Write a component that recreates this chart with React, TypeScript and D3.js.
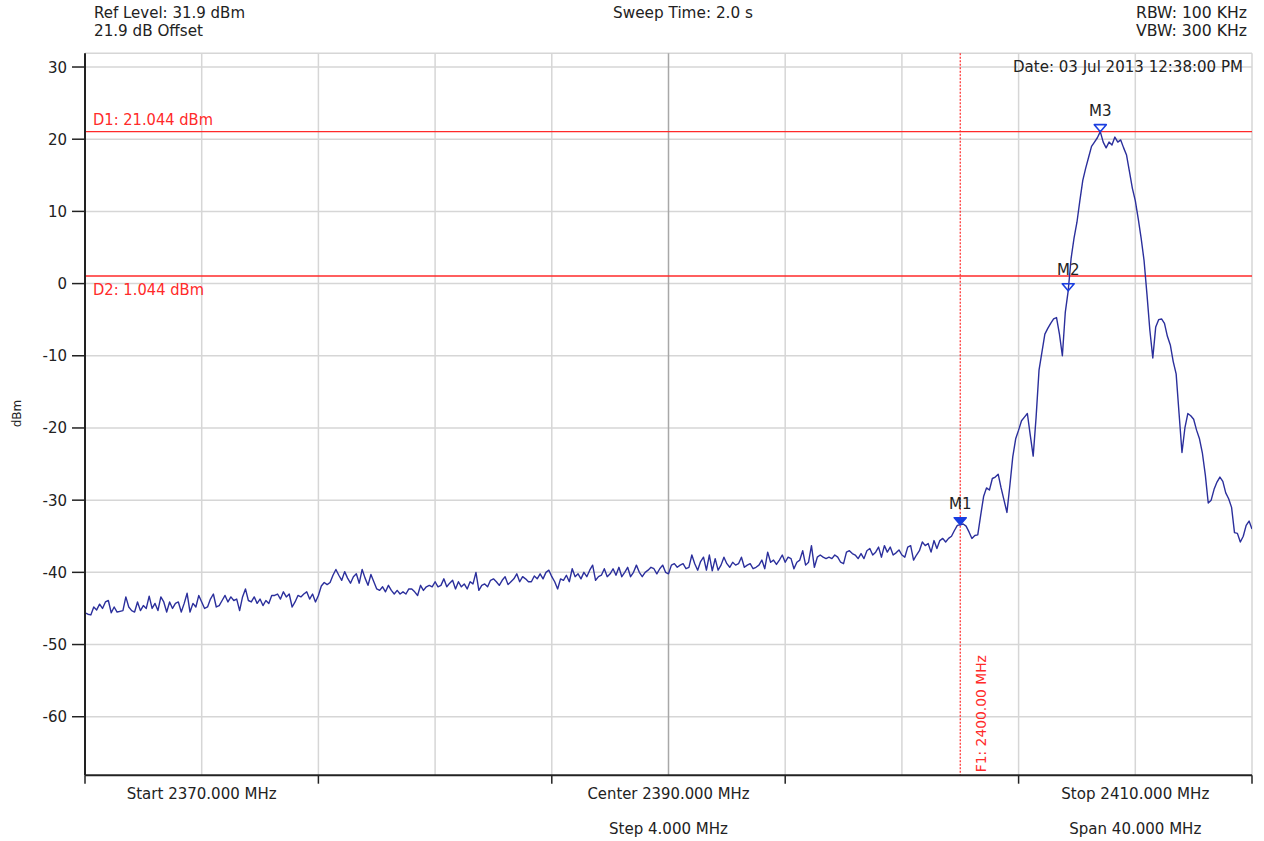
import React from 'react';
import * as d3 from 'd3';

const W = 1264;
const H = 841;
const START_MHZ = 2370;
const STOP_MHZ = 2410;
const STEP_MHZ = 0.1;
const REF_LEVEL = 31.9;
const RANGE_DB = 100;

// Trace in dBm, 401 sweep points, one band per 4 MHz division
const band1 = [
  -45.6, -45.8, -45.9, -44.8, -45.2, -44.4, -45.0, -44.1, -43.9, -45.6,
  -44.8, -45.5, -45.4, -45.3, -43.4, -44.8, -45.3, -45.5, -44.1, -45.3,
  -44.6, -45.0, -43.3, -45.0, -44.3, -45.3, -43.4, -44.1, -45.5, -44.1,
  -45.0, -44.3, -44.1, -45.5, -44.3, -42.9, -45.5, -44.3, -44.8, -43.2,
];
const band2 = [
  -44.1, -45.0, -44.8, -43.7, -43.0, -44.8, -44.6, -43.9, -43.2, -44.1,
  -43.4, -43.9, -43.7, -45.3, -43.4, -42.3, -43.9, -44.1, -43.4, -44.3,
  -43.7, -44.6, -43.9, -44.3, -43.2, -43.2, -43.0, -43.7, -42.7, -43.4,
  -43.0, -44.8, -44.1, -43.2, -43.4, -43.0, -42.7, -43.7, -43.0, -44.1,
];
const band3 = [
  -43.2, -41.9, -41.4, -41.7, -41.4, -40.4, -39.6, -40.4, -41.1, -39.9,
  -40.8, -41.5, -40.6, -40.2, -41.5, -39.6, -40.8, -41.8, -40.3, -41.3,
  -42.3, -42.5, -42.0, -42.7, -41.8, -42.5, -43.0, -42.5, -43.0, -42.7,
  -43.0, -42.3, -42.3, -42.7, -43.2, -41.8, -42.5, -42.0, -41.8, -42.0,
];
const band4 = [
  -41.3, -42.0, -41.8, -40.9, -42.0, -41.5, -41.1, -42.3, -41.3, -42.0,
  -41.6, -42.3, -41.3, -41.6, -40.0, -42.5, -41.8, -41.6, -42.0, -41.1,
  -40.9, -41.3, -41.8, -41.1, -40.6, -41.7, -41.3, -40.9, -40.2, -41.3,
  -40.6, -40.9, -41.3, -41.3, -40.5, -40.9, -40.2, -40.9, -40.0, -39.7,
];
const band5 = [
  -40.6, -41.3, -42.3, -40.9, -41.1, -40.4, -41.3, -39.5, -40.6, -40.2,
  -40.9, -40.0, -40.6, -39.7, -39.0, -41.1, -40.6, -40.4, -39.5, -40.6,
  -40.2, -39.5, -40.4, -39.3, -40.6, -40.0, -39.3, -40.6, -40.0, -39.0,
  -40.0, -40.6, -40.0, -39.7, -39.3, -39.5, -40.2, -39.5, -39.0, -40.0,
];
const band6 = [
  -40.2, -39.0, -38.8, -39.3, -39.0, -38.8, -39.5, -39.3, -37.6, -38.8,
  -39.7, -38.5, -37.9, -39.7, -37.6, -39.8, -38.1, -39.7, -39.0, -37.9,
  -38.8, -39.3, -38.6, -39.0, -38.8, -37.9, -39.3, -39.0, -38.8, -39.5,
  -39.3, -39.0, -38.3, -39.5, -37.2, -38.6, -38.3, -38.9, -38.3, -37.6,
];
const band7 = [
  -38.6, -37.9, -38.1, -39.5, -38.6, -38.3, -37.0, -39.0, -38.6, -36.3,
  -39.3, -37.9, -37.6, -37.9, -38.1, -37.9, -38.1, -37.6, -37.9, -38.6,
  -38.8, -37.2, -37.0, -37.4, -37.6, -38.1, -37.4, -38.1, -37.0, -36.7,
  -37.6, -37.2, -36.5, -37.9, -36.3, -37.2, -36.5, -37.6, -37.3, -36.9,
];
const band8 = [
  -37.6, -37.9, -36.5, -36.3, -38.3, -37.6, -37.0, -35.8, -36.3, -36.0,
  -37.2, -35.6, -36.7, -35.6, -35.3, -35.8, -35.3, -35.0, -34.2, -33.5,
  -33.4, -33.3, -33.6, -34.4, -35.3, -34.9, -34.8, -32.1, -29.5, -28.3,
  -28.6, -27.0, -26.8, -26.4, -28.3, -30.0, -31.7, -28.0, -24.0, -21.5,
];
const band9 = [
  -20.3, -19.0, -18.5, -18.0, -21.0, -23.9, -18.5, -12.0, -9.5, -7.0,
  -6.2, -5.5, -4.9, -4.7, -7.0, -10.0, -4.0, -1.0, 3.5, 6.3,
  8.5, 11.5, 14.3, 16.0, 17.5, 19.0, 19.6, 20.2, 21.044, 19.6,
  18.8, 19.6, 19.2, 20.3, 19.6, 19.9, 18.8, 17.8, 15.5, 13.2,
];
const band10 = [
  11.5, 9.0, 6.3, 3.2, -1.5, -6.5, -10.3, -6.0, -5.0, -4.9,
  -5.5, -7.3, -8.5, -10.8, -12.5, -18.0, -23.4, -20.0, -18.0, -18.3,
  -18.8, -20.3, -21.5, -23.5, -26.5, -30.4, -30.0, -28.5, -27.5, -26.8,
  -27.4, -29.0, -29.8, -31.0, -34.5, -34.6, -35.8, -35.0, -33.5, -32.9,
  -34.0,
];
const trace = [...band1, ...band2, ...band3, ...band4, ...band5, ...band6, ...band7, ...band8, ...band9, ...band10];

const yTickValues = [30, 20, 10, 0, -10, -20, -30, -40, -50, -60];
const xGridValues = [2370, 2374, 2378, 2382, 2386, 2390, 2394, 2398, 2402, 2406, 2410];
const xMajorTicks = [2370, 2378, 2386, 2394, 2402, 2410];

const markerNames = ['M1', 'M2', 'M3'];
const markerFreqs = [2400.0, 2403.7, 2404.8];
const markerFilled = [true, false, false];

const displayLines = [
  { label: 'D1: 21.044 dBm', value: 21.044, above: true },
  { label: 'D2: 1.044 dBm', value: 1.044, above: false },
];
const freqLine = { label: 'F1: 2400.00 MHz', freq: 2400.0 };

const headerLeft = ['Ref Level: 31.9 dBm', '21.9 dB Offset'];
const headerCenter = 'Sweep Time: 2.0 s';
const headerRight = ['RBW: 100 KHz', 'VBW: 300 KHz'];
const dateText = 'Date: 03 Jul 2013 12:38:00 PM';
const bottomLabels = [
  { text: 'Start 2370.000 MHz', f: 2374, row: 0, len: 150 },
  { text: 'Center 2390.000 MHz', f: 2390, row: 0, len: 162 },
  { text: 'Stop 2410.000 MHz', f: 2406, row: 0, len: 148 },
  { text: 'Step 4.000 MHz', f: 2390, row: 1, len: 119 },
  { text: 'Span 40.000 MHz', f: 2406, row: 1, len: 132 },
];

const FONT = '"DejaVu Sans", "Liberation Sans", sans-serif';
const TEXT = '#222';
const RED = '#ff2a2a';
const TRACE = '#2b2f9c';
const MARK = '#1a3ee0';

export default function App() {
  const x = d3.scaleLinear().domain([START_MHZ, STOP_MHZ]).range([85, 1252]);
  const y = d3.scaleLinear().domain([REF_LEVEL - RANGE_DB, REF_LEVEL]).range([775.2, 53.3]);
  const [x0, x1] = x.range();
  const [yb, yt] = y.range();

  const line = d3
    .line<number>()
    .x((_, i) => x(START_MHZ + i * STEP_MHZ))
    .y((d) => y(d));

  const markers = markerNames.map((name, k) => {
    const idx = Math.round((markerFreqs[k] - START_MHZ) / STEP_MHZ);
    return { name, fx: x(START_MHZ + idx * STEP_MHZ), fy: y(trace[idx]), filled: markerFilled[k] };
  });

  return (
    <svg
      width={W}
      height={H}
      style={{ position: 'fixed', left: 0, top: 0, background: '#fff' }}
      fontFamily={FONT}
    >
      <defs>
        <clipPath id="plotclip">
          <rect x={x0} y={yt} width={x1 - x0} height={yb - yt} />
        </clipPath>
      </defs>
      <rect x={0} y={0} width={W} height={H} fill="#fff" />

      {/* grid */}
      <line x1={x0} x2={x1} y1={yt} y2={yt} stroke="#d6d6d6" strokeWidth={1.5} />
      {yTickValues.map((v) => (
        <line key={'hg' + v} x1={x0} x2={x1} y1={y(v)} y2={y(v)} stroke="#d6d6d6" strokeWidth={1.5} />
      ))}
      {xGridValues.map((f) => (
        <line
          key={'vg' + f}
          x1={x(f)}
          x2={x(f)}
          y1={yt}
          y2={yb}
          stroke={f === 2390 ? '#a8a8a8' : '#d6d6d6'}
          strokeWidth={1.5}
        />
      ))}

      {/* display lines */}
      {displayLines.map((d) => (
        <g key={d.label}>
          <line x1={x0} x2={x1} y1={y(d.value)} y2={y(d.value)} stroke={RED} strokeWidth={1.4} />
          <text
            x={93}
            y={d.above ? y(d.value) - 6.5 : y(d.value) + 18.5}
            fontSize={15}
            fill={RED}
            textLength={d.above ? 120 : 111}
            lengthAdjust="spacingAndGlyphs"
          >
            {d.label}
          </text>
        </g>
      ))}
      <line
        x1={x(freqLine.freq)}
        x2={x(freqLine.freq)}
        y1={yt}
        y2={yb}
        stroke={RED}
        strokeWidth={1.2}
        strokeDasharray="2,1.5"
      />
      <text
        transform={`translate(${x(freqLine.freq) + 26},${yb - 3}) rotate(-90)`}
        fontSize={14}
        fill={RED}
        textLength={117}
        lengthAdjust="spacingAndGlyphs"
      >
        {freqLine.label}
      </text>

      {/* trace */}
      <path d={line(trace) || ''} fill="none" stroke={TRACE} strokeWidth={1.4} strokeLinejoin="round" clipPath="url(#plotclip)" />

      {/* markers */}
      {markers.map((m) => (
        <g key={m.name}>
          <path
            d={`M${m.fx - 6},${m.fy - 7} L${m.fx + 6},${m.fy - 7} L${m.fx},${m.fy} Z`}
            fill={m.filled ? MARK : 'none'}
            stroke={MARK}
            strokeWidth={1.6}
            strokeLinejoin="round"
          />
          <text x={m.fx} y={m.fy - 16} fontSize={15} fill={TEXT} textAnchor="middle">
            {m.name}
          </text>
        </g>
      ))}

      {/* axes */}
      <line x1={x0} x2={x0} y1={yt} y2={yb} stroke="#222" strokeWidth={2} />
      <line x1={x0} x2={x1} y1={yb} y2={yb} stroke="#222" strokeWidth={2} />
      {yTickValues.map((v) => (
        <g key={'yt' + v}>
          <line x1={72} x2={x0} y1={y(v)} y2={y(v)} stroke="#222" strokeWidth={1.5} />
          <text x={67} y={y(v) + 5.5} fontSize={15} fill={TEXT} textAnchor="end">
            {v}
          </text>
        </g>
      ))}
      {xMajorTicks.map((f) => (
        <line key={'xt' + f} x1={x(f)} x2={x(f)} y1={yb} y2={yb + 8.5} stroke="#222" strokeWidth={1.5} />
      ))}
      <text transform="translate(21,413.5) rotate(-90)" fontSize={12} fill={TEXT} textAnchor="middle">
        dBm
      </text>

      {/* bottom labels */}
      {bottomLabels.map((b) => (
        <text
          key={b.text}
          x={x(b.f)}
          y={b.row === 0 ? 799 : 834}
          fontSize={15}
          fill={TEXT}
          textAnchor="middle"
          textLength={b.len}
          lengthAdjust="spacingAndGlyphs"
        >
          {b.text}
        </text>
      ))}

      {/* header */}
      <text x={94} y={18} fontSize={15} fill={TEXT} textLength={151} lengthAdjust="spacingAndGlyphs">
        {headerLeft[0]}
      </text>
      <text x={94} y={36} fontSize={15} fill={TEXT} textLength={109} lengthAdjust="spacingAndGlyphs">
        {headerLeft[1]}
      </text>
      <text x={683} y={18} fontSize={15} fill={TEXT} textAnchor="middle" textLength={140} lengthAdjust="spacingAndGlyphs">
        {headerCenter}
      </text>
      <text x={1247} y={18} fontSize={15} fill={TEXT} textAnchor="end" textLength={111} lengthAdjust="spacingAndGlyphs">
        {headerRight[0]}
      </text>
      <text x={1247} y={36} fontSize={15} fill={TEXT} textAnchor="end" textLength={111} lengthAdjust="spacingAndGlyphs">
        {headerRight[1]}
      </text>
      <text x={1243} y={72} fontSize={15} fill={TEXT} textAnchor="end" textLength={230} lengthAdjust="spacingAndGlyphs">
        {dateText}
      </text>
    </svg>
  );
}
